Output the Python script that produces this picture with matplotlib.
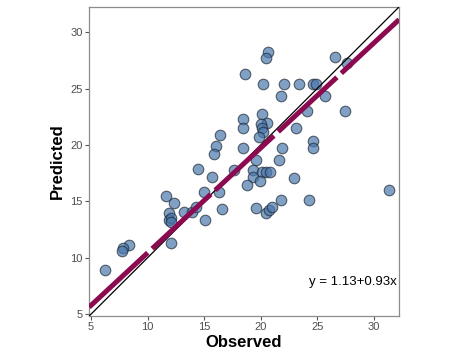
"""Observed vs predicted scatter with fitted regression line."""
import numpy as np
import matplotlib
matplotlib.use("Agg")
import matplotlib.pyplot as plt

plt.rcParams['font.family'] = ['Liberation Sans', 'DejaVu Sans']

observed = [20.63, 20.43, 18.6, 20.22, 22.05, 23.38, 24.62, 24.9, 26.56, 27.6,
            21.76, 25.68, 24.14, 27.45, 20.1, 18.45, 20.52, 20.01, 18.45, 23.11,
            20.1, 20.19, 19.87, 16.39, 16.06, 15.83, 18.45, 21.9, 24.62, 24.62,
            19.57, 21.58, 14.47, 17.6, 15.7, 19.3, 20.1, 20.49, 20.84, 19.28,
            22.94, 18.75, 19.9, 31.34, 11.64, 14.97, 16.33, 12.32, 16.62, 19.57,
            21.76, 24.29, 20.43, 20.72, 21.02, 13.2, 13.94, 14.32, 15.03, 11.93,
            11.87, 12.08, 12.1, 12.08, 8.36, 7.83, 7.74, 6.27]
predicted = [28.28, 27.69, 26.3, 25.38, 25.38, 25.38, 25.38, 25.38, 27.84, 27.25,
             24.38, 24.35, 23.02, 23.02, 22.75, 22.31, 21.98, 21.86, 21.54, 21.54,
             21.48, 21.12, 20.68, 20.89, 19.88, 19.17, 19.70, 19.70, 20.38, 19.70,
             18.67, 18.67, 17.9, 17.75, 17.2, 17.75, 17.58, 17.63, 17.63, 17.15,
             17.04, 16.42, 16.77, 16.03, 15.44, 15.83, 15.83, 14.82, 14.32, 14.44,
             15.09, 15.12, 13.97, 14.2, 14.5, 14.09, 14.09, 14.5, 13.38, 13.97,
             13.32, 13.52, 13.14, 11.31, 11.13, 10.87, 10.58, 8.95]

intercept = 1.13
slope = 0.93
ticks = [5, 10, 15, 20, 25, 30]
lims = (4.82, 32.25)

fig = plt.figure(figsize=(4.5, 3.6), dpi=100)
ax = fig.add_axes([0.198, 0.122, 0.689, 0.859])

ax.scatter(observed, predicted, s=58, facecolor='#4A78AC', edgecolor='#1f2a36',
           linewidth=0.8, alpha=0.7, zorder=3)

# 1:1 line
ax.plot(lims, lims, color='black', linewidth=0.9, zorder=4)

# regression line
xs = np.array(lims)
ax.plot(xs, intercept + slope * xs, color='#8B0A50', linewidth=3.6,
        dashes=(16, 1.2), solid_capstyle='butt', dash_capstyle='butt', zorder=5)

ax.text(32.0, 7.85, f"y = {intercept:.2f}+{slope:.2f}x", ha='right', va='center',
        fontsize=9.5, color='black')

ax.set_xlim(lims)
ax.set_ylim(lims)
ax.set_xticks(ticks)
ax.set_yticks(ticks)
ax.tick_params(length=3, width=0.8, color='#555555', labelcolor='#4d4d4d',
               labelsize=8, pad=1.5)
for spine in ax.spines.values():
    spine.set_color('#8c8c8c')
    spine.set_linewidth(0.9)

ax.set_xlabel('Observed', fontsize=12, fontweight='bold', labelpad=2)
ax.set_ylabel('Predicted', fontsize=12, fontweight='bold', labelpad=4)

fig.savefig('out.png', dpi=100)
